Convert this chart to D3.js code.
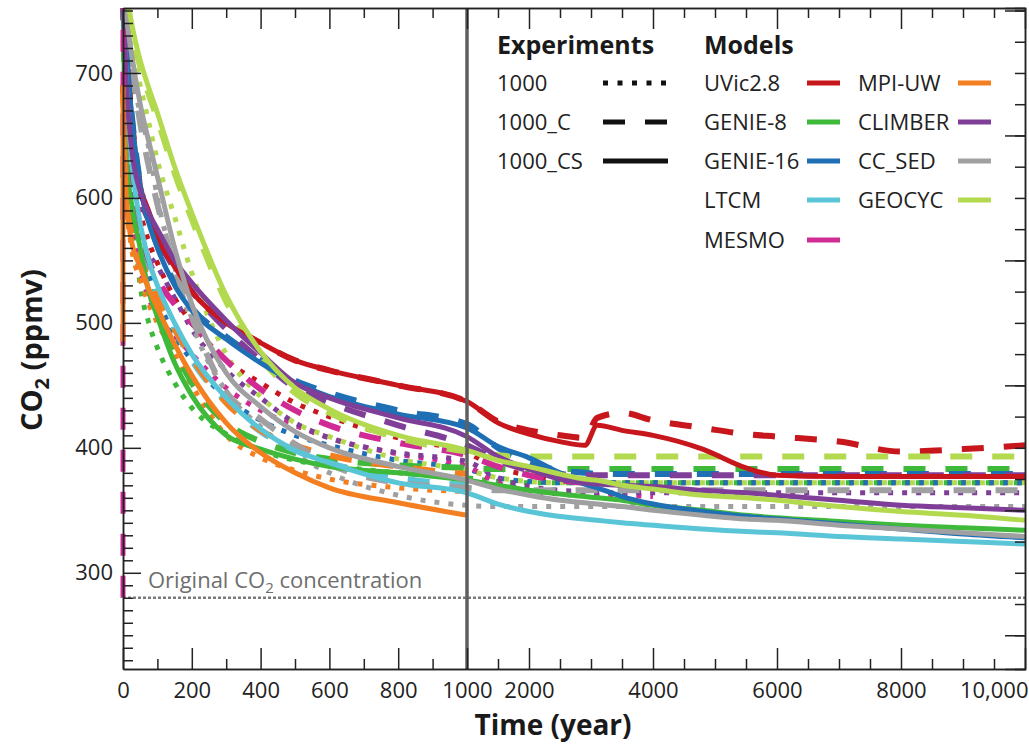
<!DOCTYPE html>
<html>
<head>
<meta charset="utf-8">
<script src="https://cdn.jsdelivr.net/npm/d3@7"></script>
<style>
body { margin: 0; background: #fff; }
svg text { font-family: "Open Sans", sans-serif; }
</style>
</head>
<body>
<div id="chart-area"></div>
<script>
// DATA ---------------------------------------------------------------
var n = null;
var years = [0, 10, 25, 50, 75, 100, 150, 200, 300, 400, 500, 600, 800, 1000,
             1500, 2000, 2500, 2900, 3100, 3500, 4000, 4800, 5500, 6000, 7000, 8000, 9000, 10000];

var models = ["UVic2.8", "GENIE-8", "GENIE-16", "LTCM", "MESMO", "MPI-UW", "CLIMBER", "CC_SED", "GEOCYC"];
var modelColors = ["#c8161d", "#3fb93a", "#1f6fb5", "#5bc5d8", "#d02b95", "#f47f20", "#7f3f98", "#a0a0a2", "#b3d94f"];
var experiments = ["1000", "1000_C", "1000_CS"];
var preindustrial = 280;
var mpiPulseFrom = 485;

var uvic1000  = [760,700,640,590,565,548,520,500,470,452,436,425,408,396,384,378,374,372,372,372,372,372,372,372,372,372,372,372];
var uvicC     = [765,720,665,610,588,568,545,525,500,484,470,462,450,437,421,414,410,408,424,428,422,416,411,409,405,397,399,402];
var uvicCS    = [765,720,665,610,588,568,545,525,500,484,470,462,450,437,420,411,405,402,418,414,410,399,384,378,377,377,377,377];

var genie8_1000 = [760,640,600,530,500,480,452,432,411,398,390,386,380,376,373,372,372,372,372,372,372,372,372,372,372,372,372,372];
var genie8C     = [760,645,600,562,532,512,478,452,420,405,396,391,386,384,383,383,383,383,383,383,383,383,383,383,383,383,383,383];
var genie8CS    = [760,630,595,560,525,505,468,442,410,399,391,385,380,374,370,366,363,361,360,358,354,350,346,344,341,338,336,334];

var genie16_1000 = [760,680,620,570,540,520,490,470,440,422,410,402,390,383,376,373,372,372,372,372,372,372,372,372,372,372,372,372];
var genie16C     = [770,722,668,612,582,562,532,512,489,470,454,444,430,419,400,388,382,380,379,379,379,379,379,379,379,379,379,379];
var genie16CS    = [770,720,665,610,580,560,530,510,487,468,452,441,427,416,401,392,380,371,368,361,355,349,345,343,339,335,331,328];

var ltcmC  = [760,680,620,565,540,522,495,470,437,413,398,388,376,370,n,n,n,n,n,n,n,n,n,n,n,n,n,n];
var ltcmCS = [760,690,630,580,550,530,500,475,440,415,398,388,372,364,355,349,345,343,342,340,338,335,333,332,329,327,325,323];

var mesmo1000 = [750,660,600,545,520,505,490,475,448,430,418,408,395,385,372,366,363,362,362,362,361,n,n,n,n,n,n,n];
var mesmoC    = [760,680,620,575,550,535,515,500,470,447,430,418,404,394,385,378,374,372,n,n,n,n,n,n,n,n,n,n];

var mpi1000 = [680,600,560,535,515,500,475,450,410,392,382,375,368,365,n,n,n,n,n,n,n,n,n,n,n,n,n,n];
var mpiC    = [690,610,575,552,535,520,495,472,436,414,402,394,385,379,n,n,n,n,n,n,n,n,n,n,n,n,n,n];
var mpiCS   = [690,600,565,545,527,512,483,458,420,396,380,368,356,346,n,n,n,n,n,n,n,n,n,n,n,n,n,n];

var climber1000 = [750,670,610,570,555,545,520,495,462,440,420,408,396,389,376,369,366,365,364,364,364,364,364,364,364,364,364,364];
var climberC    = [760,685,635,600,582,568,543,525,495,470,448,436,418,402,390,382,379,378,378,378,378,378,378,378,378,378,378,378];
var climberCS   = [760,690,640,605,588,575,550,532,502,476,452,440,424,409,393,383,375,372,371,370,369,366,364,362,358,354,352,350];

var ccsed1000 = [765,730,700,668,640,600,545,500,445,417,395,380,362,354,353,353,353,353,353,353,353,353,353,353,353,353,353,353];
var ccsedC    = [770,740,705,660,625,595,545,505,445,423,403,387,372,368,366,366,366,366,366,366,366,366,366,366,366,366,366,366];
var ccsedCS   = [770,745,715,675,645,617,560,515,460,433,413,400,385,374,367,362,358,356,355,353,350,346,343,342,338,335,332,329];

var geocyc1000 = [770,745,720,690,660,630,585,540,475,441,420,409,391,382,376,373,372,372,372,372,372,372,372,372,372,372,372,372];
var geocycC    = [785,760,735,705,683,663,620,583,517,472,444,428,408,397,394,393,393,393,393,393,393,393,393,393,393,393,393,393];
var geocycCS   = [790,765,740,710,688,668,625,588,522,477,448,431,410,398,390,385,379,375,374,370,367,362,360,358,353,349,346,342];

// axis ticks
var xMajor = [0, 200, 400, 600, 800, 1000, 2000, 4000, 6000, 8000, 10000];
var xMinor = [100, 300, 500, 700, 900, 1500, 2500, 3000, 3500, 4500, 5000, 5500, 6500, 7000, 7500, 8500, 9000, 9500];
var yMajor = [300, 400, 500, 600, 700];

// table [dotted, dashed, solid] per model
var runs = {
    "UVic2.8":  [uvic1000, uvicC, uvicCS],
    "GENIE-8":  [genie8_1000, genie8C, genie8CS],
    "GENIE-16": [genie16_1000, genie16C, genie16CS],
    "LTCM":     [null, ltcmC, ltcmCS],
    "MESMO":    [mesmo1000, mesmoC, null],
    "MPI-UW":   [mpi1000, mpiC, mpiCS],
    "CLIMBER":  [climber1000, climberC, climberCS],
    "CC_SED":   [ccsed1000, ccsedC, ccsedCS],
    "GEOCYC":   [geocyc1000, geocycC, geocycCS]
};

// LAYOUT -------------------------------------------------------------
var W = 1029, H = 746;
var plotL = 123, plotR = 1025, plotT = 8, plotB = 669;

var expStyle = [
    { dash: "5,9",   width: 5 },
    { dash: "22,20", width: 6 },
    { dash: null,    width: 5 }
];

var svg = d3.select("#chart-area").append("svg")
    .attr("width", W).attr("height", H);

var x = d3.scaleLinear().domain([0, 1000, 10000]).range([plotL, 467, plotR]);
var y = d3.scaleLinear().domain([223, 752]).range([plotB, plotT]);

svg.append("clipPath").attr("id", "clip")
  .append("rect").attr("x", 100).attr("y", plotT).attr("width", plotR - 100).attr("height", plotB - plotT);

// original concentration line
svg.append("line")
    .attr("x1", plotL).attr("x2", plotR)
    .attr("y1", y(preindustrial)).attr("y2", y(preindustrial))
    .attr("stroke", "#7a7a7a").attr("stroke-width", 2.5)
    .attr("stroke-dasharray", "3,2");

var oc = svg.append("text")
    .attr("x", 148).attr("y", 588)
    .attr("font-size", "22px").attr("fill", "#6e6e6e");
oc.append("tspan").text("Original CO");
oc.append("tspan").attr("font-size", "15px").attr("dy", 5).text("2");
oc.append("tspan").attr("dy", -5).text(" concentration");

// curves
var line = d3.line()
    .x(function(d){ return x(d[0]); })
    .y(function(d){ return y(d[1]); })
    .curve(d3.curveMonotoneX);

var curves = svg.append("g").attr("clip-path", "url(#clip)");

[0, 1, 2].forEach(function(e){
    models.forEach(function(m, i){
        var vals = runs[m][e];
        if (!vals) return;
        var pts = years.map(function(t, k){ return [t, vals[k]]; })
            .filter(function(d){ return d[1] != null; });
        curves.append("path")
            .attr("d", line(pts))
            .attr("fill", "none")
            .attr("stroke", modelColors[i])
            .attr("stroke-width", expStyle[e].width)
            .attr("stroke-dasharray", expStyle[e].dash);
    });
});

// emission pulse at t = 0
curves.append("line")
    .attr("x1", x(0)).attr("x2", x(0))
    .attr("y1", y(preindustrial)).attr("y2", y(mesmoC[0]))
    .attr("stroke", modelColors[4]).attr("stroke-width", 5)
    .attr("stroke-dasharray", "22,20");
curves.append("line")
    .attr("x1", x(0)).attr("x2", x(0))
    .attr("y1", y(mpiPulseFrom)).attr("y2", y(mpiCS[0]))
    .attr("stroke", modelColors[5]).attr("stroke-width", 5);

// 1000-year divider
svg.append("line")
    .attr("x1", x(1000)).attr("x2", x(1000))
    .attr("y1", plotT).attr("y2", plotB)
    .attr("stroke", "#5f5f5f").attr("stroke-width", 3.5);

// AXES ---------------------------------------------------------------
function fmtX(d){ return d >= 10000 ? d3.format(",")(d) : String(d); }

var gx = svg.append("g").attr("transform", "translate(0," + plotB + ")")
    .call(d3.axisBottom(x).tickValues(xMajor).tickSize(-21).tickSizeOuter(0).tickPadding(13).tickFormat(fmtX));
svg.append("g").attr("transform", "translate(0," + plotB + ")")
    .call(d3.axisBottom(x).tickValues(xMinor).tickSize(-10).tickSizeOuter(0).tickFormat(""));
gx.selectAll("text").filter(function(d){ return d === 10000; })
    .attr("text-anchor", "end").attr("dx", 3);

// top mirrored ticks
svg.append("g").attr("transform", "translate(0," + plotT + ")")
    .call(d3.axisTop(x).tickValues(xMajor).tickSize(-21).tickSizeOuter(0).tickFormat(""));
svg.append("g").attr("transform", "translate(0," + plotT + ")")
    .call(d3.axisTop(x).tickValues(xMinor).tickSize(-10).tickSizeOuter(0).tickFormat(""));

var yMinor = d3.range(230, 751, 10).filter(function(v){ return v % 100 !== 0; });
svg.append("g").attr("transform", "translate(" + plotL + ",0)")
    .call(d3.axisLeft(y).tickValues(yMajor).tickSize(-18).tickSizeOuter(0).tickPadding(10));
svg.append("g").attr("transform", "translate(" + plotL + ",0)")
    .call(d3.axisLeft(y).tickValues(yMinor).tickSize(-10).tickSizeOuter(0).tickFormat(""));

// right frame ticks every 25
var yRight = d3.range(250, 751, 25);
svg.append("g").attr("transform", "translate(" + plotR + ",0)")
    .call(d3.axisRight(y).tickValues(yRight).tickSizeOuter(0).tickFormat("")
        .tickSize(-10));
svg.append("g").attr("transform", "translate(" + plotR + ",0)")
    .call(d3.axisRight(y).tickValues(yRight.filter(function(v){ return v % 100 === 50; })).tickSizeOuter(0).tickFormat("")
        .tickSize(-20));

svg.selectAll(".domain, .tick line").attr("stroke", "#222").attr("stroke-width", 1.5);
svg.selectAll(".tick text").attr("font-size", "22px").attr("fill", "#222")
    .attr("font-family", "'Open Sans', sans-serif");

// axis titles
svg.append("text")
    .attr("x", 553).attr("y", 735)
    .attr("text-anchor", "middle")
    .attr("font-size", "28px").attr("font-weight", "bold").attr("fill", "#1a1a1a")
    .text("Time (year)");

var yl = svg.append("text")
    .attr("transform", "translate(42,350) rotate(-90)")
    .attr("text-anchor", "middle")
    .attr("font-size", "29px").attr("font-weight", "bold").attr("fill", "#1a1a1a");
yl.append("tspan").text("CO");
yl.append("tspan").attr("font-size", "20px").attr("dy", 7).text("2");
yl.append("tspan").attr("dy", -7).text(" (ppmv)");

// LEGEND -------------------------------------------------------------
var rowY = [83, 122, 161, 200, 240];
var leg = svg.append("g");

leg.append("text").attr("x", 497).attr("y", 54)
    .attr("font-size", "25px").attr("font-weight", "bold").attr("fill", "#1a1a1a")
    .text("Experiments");
leg.append("text").attr("x", 704).attr("y", 54)
    .attr("font-size", "25px").attr("font-weight", "bold").attr("fill", "#1a1a1a")
    .text("Models");

experiments.forEach(function(e, i){
    leg.append("text").attr("x", 497).attr("y", rowY[i]).attr("dy", "0.35em")
        .attr("font-size", "22px").attr("fill", "#222").text(e);
    leg.append("line")
        .attr("x1", 603).attr("x2", 668).attr("y1", rowY[i]).attr("y2", rowY[i])
        .attr("stroke", "#111").attr("stroke-width", 5)
        .attr("stroke-dasharray", i === 0 ? "5,9.5" : (i === 1 ? "22,20" : null));
});

models.forEach(function(m, i){
    var col = i < 5 ? 0 : 1;
    var row = i < 5 ? i : i - 5;
    var tx = col === 0 ? 704 : 858;
    var sx = col === 0 ? 807 : 958;
    leg.append("text").attr("x", tx).attr("y", rowY[row]).attr("dy", "0.35em")
        .attr("font-size", "22px").attr("fill", "#222").text(m);
    leg.append("line")
        .attr("x1", sx).attr("x2", sx + 33).attr("y1", rowY[row]).attr("y2", rowY[row])
        .attr("stroke", modelColors[i]).attr("stroke-width", 5);
});
</script>
</body>
</html>
